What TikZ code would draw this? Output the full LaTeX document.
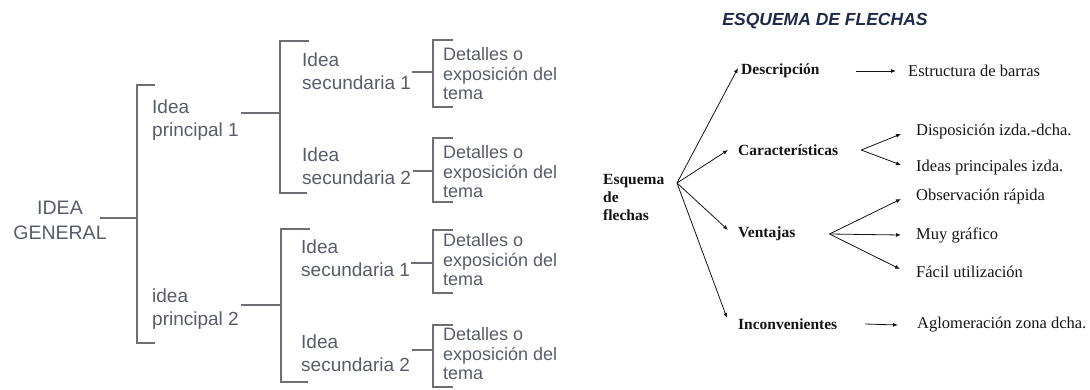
\documentclass[tikz,border=0pt]{standalone}
\usepackage{fontspec}
\setmainfont{Liberation Serif}
\newfontfamily\lsans{Liberation Sans}
\usetikzlibrary{arrows.meta}
\definecolor{ltxt}{RGB}{88,92,105}
\definecolor{lline}{RGB}{110,110,115}
\definecolor{ttl}{RGB}{30,42,72}
\definecolor{rtxt}{RGB}{20,20,20}
\begin{document}
\begin{tikzpicture}[x=1pt,y=-1pt,
  lt/.style={font=\lsans\fontsize{19}{23.5}\selectfont, text=ltxt, align=left, anchor=west, inner sep=0pt},
  gt/.style={font=\lsans\fontsize{19.5}{25}\selectfont, text=ltxt, align=center, inner sep=0pt},
  dt/.style={font=\lsans\fontsize{18}{19.5}\selectfont, text=ltxt, align=left, anchor=west, inner sep=0pt},
  br/.style={draw=lline, line width=1.1pt},
  ln/.style={draw=lline, line width=1.1pt},
  bt/.style={font=\fontsize{15.5}{18}\selectfont\bfseries, text=rtxt, anchor=west, inner sep=0pt, align=left},
  rt/.style={font=\fontsize{16.5}{20}\selectfont, text=rtxt, anchor=west, inner sep=0pt},
  ar/.style={draw=rtxt, line width=0.8pt, -{Latex[length=5pt,width=4pt]}},
]
\useasboundingbox (0,0) rectangle (1090,389);
% ---------- left: bracket diagram ----------
\coordinate (bA) at (137,218);
\coordinate (bB) at (280,113);
\coordinate (bE) at (281,305);
\coordinate (bC) at (433,72);
\coordinate (bD) at (433,171);
\coordinate (bF) at (433,263);
\coordinate (bG) at (433,350);

\draw[br] (155,85) -- (137,85) -- (137,343) -- (155,343);
\draw[br] (309,41) -- (280,41) -- (280,193) -- (307,193);
\draw[br] (310,229) -- (281,229) -- (281,382) -- (308,382);
\draw[br] (453,40) -- (433,40) -- (433,107) -- (453,107);
\draw[br] (453,138) -- (433,138) -- (433,202) -- (453,202);
\draw[br] (453,230) -- (433,230) -- (433,293) -- (453,293);
\draw[br] (453,325) -- (433,325) -- (433,387) -- (453,387);

\node[gt] (ig) at (60,220) {IDEA\\GENERAL};
\node[lt] (p1) at (152,120) {Idea\\principal 1};
\node[lt] (p2) at (152,309) {idea\\principal 2};
\node[lt] (s11) at (302,71) {Idea\\secundaria 1};
\node[lt] (s12) at (302,166) {Idea\\secundaria 2};
\node[lt] (s21) at (301,258) {Idea\\secundaria 1};
\node[lt] (s22) at (301,353) {Idea\\secundaria 2};
\node[dt] (d11) at (443,74) {Detalles o\\exposición del\\tema};
\node[dt] (d12) at (443,172) {Detalles o\\exposición del\\tema};
\node[dt] (d21) at (443,260) {Detalles o\\exposición del\\tema};
\node[dt] (d22) at (443,354) {Detalles o\\exposición del\\tema};

\draw[ln] ([shift={(-7,-2)}]ig.east) coordinate (a1) -- (bA |- a1);
\draw[ln] ([shift={(2,-7)}]p1.east) coordinate (a2) -- (bB |- a2);
\draw[ln] ([shift={(2,-4)}]p2.east) coordinate (a3) -- (bE |- a3);
\draw[ln] ([shift={(1,1)}]s11.east) coordinate (a4) -- (bC |- a4);
\draw[ln] ([shift={(2,5)}]s12.east) coordinate (a5) -- (bD |- a5);
\draw[ln] ([shift={(1,5)}]s21.east) coordinate (a6) -- (bF |- a6);
\draw[ln] ([shift={(2,-3)}]s22.east) coordinate (a7) -- (bG |- a7);

% ---------- right: arrow diagram ----------
\node[font=\lsans\bfseries\itshape\fontsize{17.5}{20}\selectfont, text=ttl, inner sep=0pt] (title) at (825,21) {ESQUEMA DE FLECHAS};
\node[bt] (esq) at (603,197) {Esquema\\de\\flechas};
\coordinate (src) at (677,183);
\node[bt] (desc) at (741,71) {Descripción};
\node[bt] (car) at (738,150) {Características};
\node[bt] (ven) at (738,234) {Ventajas};
\node[bt] (inc) at (738,324) {Inconvenientes};
\node[rt] (est) at (908,71) {Estructura de barras};
\node[rt] (dis) at (916,132) {Disposición izda.-dcha.};
\node[rt] (ide) at (916,168) {Ideas principales izda.};
\node[rt] (obs) at (916,197) {Observación rápida};
\node[rt] (muy) at (916,235) {Muy gráfico};
\node[rt] (fac) at (916,272) {Fácil utilización};
\node[rt] (agl) at (917,325) {Aglomeración zona dcha.};

\draw[ar] (src) -- ([shift={(-3,-3)}]desc.west);
\draw[ar] (src) -- ([xshift=-10pt]car.west);
\draw[ar] (src) -- ([shift={(-10,-4)}]ven.west);
\draw[ar] (src) -- ([shift={(-11,-6)}]inc.west);
\draw[ar] ([xshift=36pt]desc.east) -- ([xshift=-12pt]est.west);
\draw[ar] ([xshift=23pt]car.east) -- ([shift={(-15,2)}]dis.west);
\draw[ar] ([xshift=23pt]car.east) -- ([shift={(-15,-3)}]ide.west);
\draw[ar] ([xshift=34pt]ven.east) -- ([shift={(-15,2)}]obs.west);
\draw[ar] ([xshift=34pt]ven.east) -- ([xshift=-15pt]muy.west);
\draw[ar] ([xshift=34pt]ven.east) -- ([shift={(-16,-3)}]fac.west);
\draw[ar] ([xshift=28pt]inc.east) -- ([xshift=-19pt]agl.west);
\end{tikzpicture}
\end{document}
